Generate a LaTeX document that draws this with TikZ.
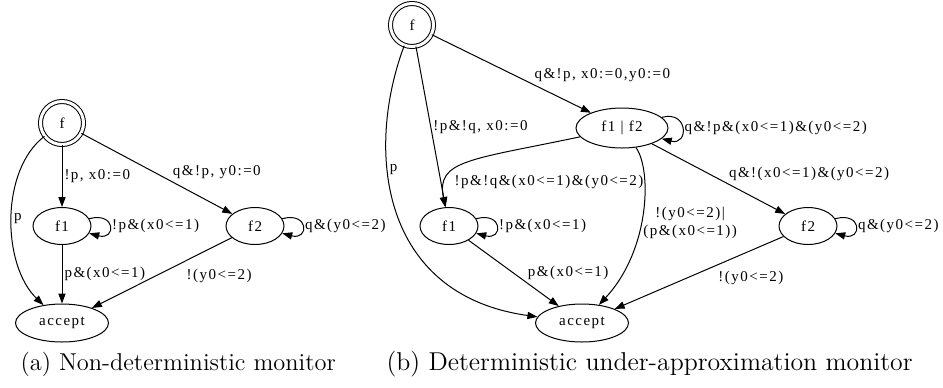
\documentclass[tikz,border=0pt]{standalone}
\usepackage{fontspec}
\newfontfamily\gvfont[LetterSpace=10]{Liberation Serif}
\newcommand{\gv}{\gvfont\fontsize{7.5}{9}\selectfont}
\usetikzlibrary{arrows.meta,automata,shapes.geometric}

\begin{document}
\begin{tikzpicture}[x=0.5pt,y=-0.5pt,line width=0.5pt,>={Triangle[length=5pt,width=3.6pt]}]
            \tikzstyle{every state}=[draw,ellipse,inner sep=0pt,minimum width=29pt,minimum height=18.5pt,font=\gv]
            \tikzstyle{finstate}=[circle,double,double distance=1.5pt,minimum size=21.5pt]
            \tikzstyle{lbl}=[font=\gv,inner sep=1pt]
            \tikzstyle{every loop}=[min distance=14pt,looseness=3]
            \tikzstyle{caption}=[anchor=west,inner sep=0pt]

            \useasboundingbox (0,0) rectangle (943,387);

            % (a) non-deterministic
            \node[state,finstate]                 (fA)   at (62,123)  {f};
            \node[state]                          (f1A)  at (62,226)  {f1};
            \node[state]                          (f2A)  at (255,226) {f2};
            \node[state,minimum width=46.5pt,minimum height=19pt] (accA) at (62,323) {accept};

            \path[->]
                (fA) edge node[lbl,right] {!p, x0:=0} (f1A)
                (fA) edge node[lbl,pos=0.59,anchor=south west] {q\&!p, y0:=0} (f2A)

                (f1A) edge [loop right] node[lbl,right] {!p\&(x0<=1)} ()
                (f1A) edge node[lbl,right] {p\&(x0<=1)} (accA)

                (f2A) edge [loop right] node[lbl,right] {q\&(y0<=2)} ()
                (f2A) edge node[lbl,pos=0.34,anchor=north west,yshift=-2.5pt] {!(y0<=2)} (accA)
                ;
            \draw[->] (fA) .. controls (0,170) and (2,265) .. (accA) node[lbl,pos=0.5,right] {p};

            % (b) deterministic under-approximation
            \node[state,finstate]                 (fB)   at (412,25)  {f};
            \node[state,minimum width=46pt,minimum height=20pt] (f12B) at (622,128) {f1 | f2};
            \node[state]                          (f1B)  at (449,226) {f1};
            \node[state]                          (f2B)  at (808,226) {f2};
            \node[state,minimum width=46.5pt,minimum height=19pt] (accB) at (582,323) {accept};

            \path[->]
                (fB) edge node[lbl,pos=0.63,anchor=south west] {q\&!p, x0:=0,y0:=0} (f12B)
                (fB) edge node[lbl,right] {!p\&!q, x0:=0} (f1B)

                (f12B) edge [loop right] node[lbl,right] {q\&!p\&(x0<=1)\&(y0<=2)} ()
                (f12B) edge node[lbl,pos=0.56,anchor=south west] {q\&!(x0<=1)\&(y0<=2)} (f2B)

                (f1B) edge [loop right] node[lbl,right] {!p\&(x0<=1)} ()
                (f1B) edge node[lbl,pos=0.63,anchor=south west] {p\&(x0<=1)} (accB)

                (f2B) edge [loop right] node[lbl,right] {q\&(y0<=2)} ()
                (f2B) edge node[lbl,pos=0.4,anchor=north west,yshift=-1.5pt] {!(y0<=2)} (accB)
                ;
            \draw[->] (fB) .. controls (365,150) and (380,295) .. (accB) node[lbl,pos=0.37,right] {p};
            \draw[->] (f12B) .. controls (470,160) and (436,160) .. (f1B) node[lbl,pos=0.66,anchor=north west] {!p\&!q\&(x0<=1)\&(y0<=2)};
            \draw[->] (f12B) .. controls (652,170) and (650,250) .. (accB) node[lbl,pos=0.55,anchor=west,align=center] {!(y0<=2)|\\(p\&(x0<=1))};

            \node[caption,font=\fontsize{12.2}{14}\selectfont] (capA) at (20,364)  {(a) Non-deterministic monitor};
            \node[caption,font=\fontsize{12.9}{15}\selectfont] (capB) at (386,364) {(b) Deterministic under-approximation monitor};
\end{tikzpicture}
\end{document}
